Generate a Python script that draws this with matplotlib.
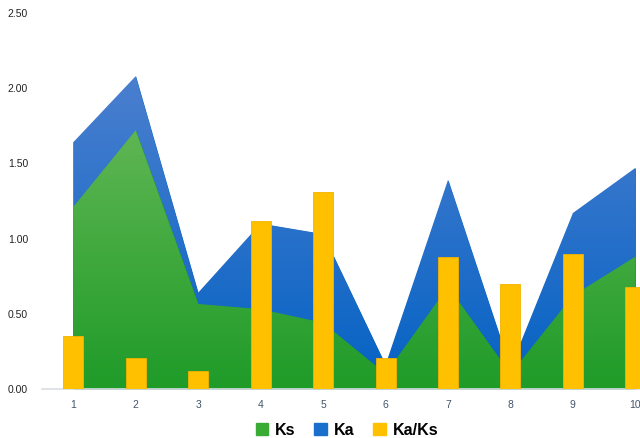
import numpy as np
import matplotlib
matplotlib.use("Agg")
import matplotlib.pyplot as plt
from matplotlib.colors import LinearSegmentedColormap
from matplotlib.patches import PathPatch, Patch

# values
samples = [1, 2, 3, 4, 5, 6, 7, 8, 9, 10]
ks = [1.21, 1.72, 0.565, 0.53, 0.44, 0.10, 0.68, 0.10, 0.62, 0.88]
ka = [1.64, 2.08, 0.64, 1.10, 1.03, 0.16, 1.39, 0.14, 1.17, 1.47]
ka_ks = [0.35, 0.205, 0.12, 1.115, 1.31, 0.205, 0.875, 0.70, 0.90, 0.68]

plt.rcParams['font.family'] = ['Liberation Sans', 'DejaVu Sans']

fig = plt.figure(figsize=(6.4, 4.38), dpi=100)
ax = fig.add_axes([0.0656, 0.112, 0.976, 0.8584])


def gradient_area(ax, x, y, top_color, bottom_color, z):
    poly = ax.fill_between(x, 0, y, color=bottom_color, lw=0, zorder=z)
    cmap = LinearSegmentedColormap.from_list('g', [bottom_color, top_color])
    grad = np.linspace(0, 1, 256).reshape(-1, 1)
    im = ax.imshow(grad, cmap=cmap, aspect='auto', origin='lower',
                   extent=[0.5, 10.5, 0, max(y)], zorder=z + 0.1)
    clip = PathPatch(poly.get_paths()[0], transform=ax.transData,
                     facecolor='none', edgecolor='none')
    ax.add_patch(clip)
    im.set_clip_path(clip)
    return poly


gradient_area(ax, samples, ka, '#4b7fcf', '#0462c4', 1)
gradient_area(ax, samples, ks, '#5fb653', '#1f9b28', 2)

ax.bar(samples, ka_ks, width=0.32, color='#ffc000', edgecolor='#f2b200',
       linewidth=0.6, zorder=3)

ax.set_xlim(0.5, 10.5)
ax.set_ylim(0, 2.5)
ax.set_xticks(samples)
ax.set_xticklabels([str(s) for s in samples], color='#44546a', fontsize=7.5)
ax.set_yticks([0, 0.5, 1.0, 1.5, 2.0, 2.5])
ax.set_yticklabels(['%.2f' % v for v in [0, 0.5, 1.0, 1.5, 2.0, 2.5]],
                   fontsize=7.5, color='#222222')
ax.tick_params(axis='both', length=0)
ax.tick_params(axis='y', pad=10)
ax.tick_params(axis='x', pad=8)
for side in ['top', 'right', 'left']:
    ax.spines[side].set_visible(False)
ax.spines['bottom'].set_color('#d9dde3')
ax.spines['bottom'].set_linewidth(1.2)

handles = [Patch(color='#3aab35', label='Ks'),
           Patch(color='#1a6fcc', label='Ka'),
           Patch(color='#ffc000', label='Ka/Ks')]
fig.legend(handles=handles, loc='center', bbox_to_anchor=(0.542, 0.018),
           ncol=3, frameon=False, handlelength=0.8, handleheight=0.8,
           handletextpad=0.4, columnspacing=1.2,
           prop={'size': 11.5, 'weight': 'bold'})

fig.savefig('out.png', dpi=100)
